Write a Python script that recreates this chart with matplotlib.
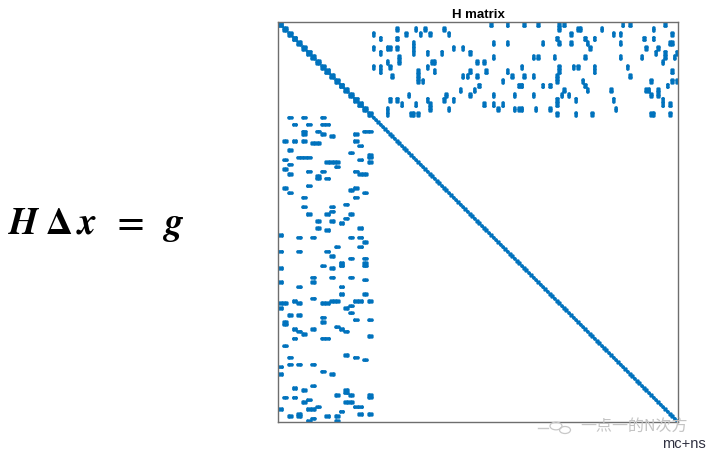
import numpy as np
import matplotlib
matplotlib.use("Agg")
import matplotlib.pyplot as plt
from matplotlib.patches import Circle

# ---- data ----
n_cams = 20
cam_dim = 6
n_points = 130
pt_dim = 3

# observations: point index -> list of cameras that see it
obs_points = [0, 3, 6, 7, 8, 10, 11, 12, 14, 15, 16, 17, 18, 19, 20, 21, 22, 23, 24,
              25, 26, 29, 30, 31, 32, 34, 37, 38, 40, 41, 43, 44, 45, 47, 48, 50, 51,
              53, 55, 57, 59, 60, 62, 63, 64, 68, 69, 70, 72, 75, 77, 78, 79, 80, 81,
              83, 84, 85, 86, 87, 88, 89, 90, 91, 92, 93, 94, 97, 101, 102, 103, 105,
              106, 108, 109, 114, 115, 116, 117, 118, 119, 120, 121, 123, 124, 125,
              126, 127, 128, 129]
obs_cams = [[2, 5, 9], [3, 6, 9, 10], [5, 8, 18, 19], [5, 9, 16], [11], [1, 3, 5, 16],
            [7, 8], [17], [2], [15], [19], [4, 5, 6, 19], [1, 17], [10, 11, 12, 19], [2],
            [12], [1], [6, 9, 16], [2, 17, 18], [8], [8, 10], [6], [1, 16], [15], [2, 18],
            [5, 16], [14], [5, 11], [11], [6, 10, 15], [14], [8, 11], [13], [8, 17], [10],
            [0], [4, 7, 15, 17], [18], [12, 17], [0, 4, 10], [11], [15, 18], [13, 18],
            [9, 13, 18], [0, 11], [7, 11, 15], [18], [0, 7], [4, 13], [13, 18], [7],
            [3, 11, 12, 16, 17, 19], [0, 1, 4, 9, 10], [15], [0, 14], [15], [2, 4], [9],
            [16, 19], [1, 9], [1], [12], [3, 7, 13], [4, 14], [5], [19], [3, 9, 10], [1],
            [14], [2, 16], [18], [2, 4, 7], [0], [9], [0, 11], [7], [3], [5, 14], [14],
            [12, 15, 19], [1, 3, 19], [6], [5, 14, 15], [8, 16, 17], [0, 6, 7], [13],
            [4, 17, 19], [2, 4, 10, 12], [7], [6, 12]]

title = "H matrix"
corner_label = "mc+ns"
equation = r"$\mathbfit{H}\;\mathbf{\Delta}\,\mathbfit{x}\;\;\mathbf{=}\;\;\mathbfit{g}$"
watermark = "一点一的N次方"

# ---- build H ----
nc = n_cams * cam_dim
N = nc + n_points * pt_dim
H = np.zeros((N, N), dtype=bool)
for c in range(n_cams):
    s = c * cam_dim
    H[s:s + cam_dim, s:s + cam_dim] = True
for p in range(n_points):
    s = nc + p * pt_dim
    H[s:s + pt_dim, s:s + pt_dim] = True
for p, cams in zip(obs_points, obs_cams):
    ps = nc + p * pt_dim
    for c in cams:
        cs = c * cam_dim
        H[cs:cs + cam_dim, ps:ps + pt_dim] = True
        H[ps:ps + pt_dim, cs:cs + cam_dim] = True

# ---- figure ----
plt.rcParams['mathtext.fontset'] = 'stix'
W, Hpx = 714, 457
fig = plt.figure(figsize=(W / 100, Hpx / 100), dpi=100)
ax = fig.add_axes([278 / W, 1 - 422 / Hpx, 400 / W, 400 / Hpx])
ax.spy(H, marker='o', markersize=1.55, color='#0072BD', markeredgewidth=0)
ax.set_aspect('auto')
ax.set_xticks([])
ax.set_yticks([])
for sp in ax.spines.values():
    sp.set_color('#6e6e6e')
    sp.set_linewidth(1.0)
ax.set_title(title, fontsize=9.5, fontweight='bold', family='Liberation Sans', pad=3)

fig.text(684 / W, 1 - 444 / Hpx, corner_label, fontsize=10.5, family='Liberation Sans',
         color='#2f3040', ha='center', va='center')

fig.text(8 / W, 1 - 225 / Hpx, equation, fontsize=27, ha='left', va='center')

# watermark
fig.text(634 / W, 1 - 427 / Hpx, watermark, fontsize=11.5,
         family=['Noto Sans CJK SC', 'DejaVu Sans'], color='#c4c4c4',
         ha='center', va='center')
fig.add_artist(plt.Line2D([538 / W, 548 / W], [1 - 428 / Hpx, 1 - 428 / Hpx],
                          transform=fig.transFigure, color='#c8c8c8', lw=1))
for cx, cy, r in [(556, 426, 6), (565, 430, 5.5)]:
    fig.add_artist(Circle((cx / W, 1 - cy / Hpx), r / W, transform=fig.transFigure,
                          fill=False, edgecolor='#c8c8c8', lw=0.9))

fig.savefig("out.png", dpi=100)
